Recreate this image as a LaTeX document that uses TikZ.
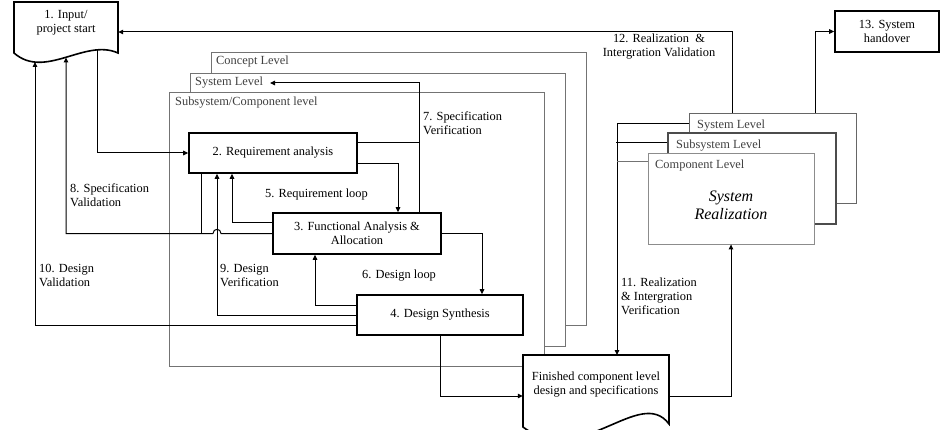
\documentclass[tikz,border=0pt]{standalone}
\usepackage{fontspec}
\setmainfont{Liberation Serif}
\usetikzlibrary{arrows.meta}
\begin{document}
\begin{tikzpicture}[x=1pt,y=-1pt,
  every node/.style={font=\fontsize{12.4}{14}\selectfont},
  lbl/.style={inner sep=0pt,anchor=west,align=left},
  flbl/.style={inner sep=0pt,anchor=west,text=black!75},
  frame/.style={draw=black!55,line width=0.8pt,fill=white},
  stepbox/.style={draw,line width=1.6pt,minimum width=#1,minimum height=40pt,inner sep=2pt,align=center},
  conn/.style={line width=1pt},
  arr/.style={line width=1pt,-{Triangle[length=5pt,width=4.5pt]}},
  outline/.style={draw,line width=1.6pt,fill=white}]
\useasboundingbox (0,0) rectangle (949,430);

% level frames (left)
\draw[frame] (211,52) rectangle (586,325);
\draw[frame] (190,73) rectangle (565,346);
\draw[frame] (169,92) rectangle (544,366);
\node[flbl] (lconcept) at (216,62) {Concept Level};
\node[flbl] (lsystem) at (195,83) {System Level};
\node[flbl] (lsubsys) at (175,103) {Subsystem/Component level};

% realization stack (right)
\node[frame,draw=black!60,minimum width=167pt,minimum height=90pt,inner sep=0pt] (sys) at (772.5,158) {};
\node[frame,draw=black!70,line width=1.2pt,minimum width=168pt,minimum height=91pt,inner sep=0pt] (sub) at (752,178.5) {};
\node[frame,draw=black!45,minimum width=166pt,minimum height=91pt,inner sep=0pt] (comp) at (731,198.5) {};
\node[flbl] (lsys2) at (697,126) {System Level};
\node[flbl] (lsub2) at (676,146) {Subsystem Level};
\node[flbl] (lcomp2) at (655,166) {Component Level};
\node[align=center,font=\fontsize{16}{18}\selectfont\itshape] (sr) at (731,205) {System\\Realization};

% node 1 (document shape)
\draw[outline] (14,53) -- (14,2) -- (118,2) -- (118,53) .. controls (85,38) and (45,80) .. (14,53) -- cycle;
\node[align=center,minimum width=104pt,inner sep=0pt] (n1) at (66,23) {1. Input/\\project start};
\coordinate (n1out) at (97,50);
\coordinate (n1inA) at (35,62);
\coordinate (n1inB) at (66,57.5);

% finished doc
\draw[outline] (523,427) -- (523,355) -- (669,355) -- (669,424) .. controls (640,385) and (580,470) .. (523,427) -- cycle;
\node[align=center,minimum width=146pt,inner sep=0pt] (doc) at (596,385) {Finished component level\\design and specifications};
\coordinate (docin) at (617,355);

% process boxes
\node[stepbox=168pt] (n2) at (273,153) {2. Requirement analysis};
\node[stepbox=168pt,minimum height=41pt] (n3) at (357,233.5) {3. Functional Analysis \&\\Allocation};
\node[stepbox=166pt] (n4) at (440,315) {4. Design Synthesis};
\node[stepbox=104pt,minimum height=41pt] (n13) at (887,31.5) {13. System\\handover};

% connectors
\draw[arr] (n1out) |- (n2.west);
\draw[arr] ([yshift=-11pt]n2.east) -| ([xshift=41pt]n3.north);
\coordinate (sevtop) at (419,83);
\coordinate (sevend) at (270,83);
\draw[conn] ([yshift=10pt]n2.east) -| (sevtop);
\draw[arr] ([xshift=62pt]n3.north) |- (sevend);
\draw[arr] ([yshift=10.5pt]n3.west) -| ([xshift=-41pt]n2.south);
\draw[conn] ([xshift=-72pt]n2.south) -- ([xshift=-72pt]n2.south |- n3.west);
\draw[arr] (n3.west) -- (221,233.5) .. controls (221,228) and (213,228) .. (213,233.5) -| (n1inB);
\draw[arr] (n4.west) -| ([xshift=-56pt]n2.south);
\draw[arr] ([yshift=10pt]n4.west) -| ([xshift=-42pt]n3.south);
\draw[arr] ([yshift=-10pt]n4.west) -| (n1inA);
\draw[arr] (n3.east) -| ([xshift=42pt]n4.north);
\draw[arr] (n4.south) |- ([yshift=-11pt]doc.west);
\draw[arr] ([yshift=-11pt]doc.east) -| (comp.south);
\draw[arr] ([yshift=34pt]sys.west) -| (docin);
\draw[conn] ([yshift=35.5pt]sub.west) -- +(-51pt,0);
\draw[conn,black!55] ([yshift=36.5pt]comp.west) -- +(-31pt,0);
\draw[arr] ([xshift=-40.5pt]sys.north) |- ([yshift=-9pt]n1.east);
\draw[arr] ([xshift=42.5pt]sys.north) |- (n13.west);

% labels
\node[lbl] (l7) at (423,123.5) {7. Specification\\Verification};
\node[lbl] (l5) at (265,195) {5. Requirement loop};
\node[lbl] (l8) at (70,195) {8. Specification\\Validation};
\node[lbl] (l10) at (39,275.5) {10. Design\\Validation};
\node[lbl] (l9) at (220,275.5) {9. Design\\Verification};
\node[lbl] (l6) at (362,276) {6. Design loop};
\node[lbl] (l11) at (621,296) {11. Realization\\\& Intergration\\Verification};
\node[align=center,inner sep=0pt] (l12) at (659,47) {12. Realization~~\&\\Intergration Validation};
\end{tikzpicture}
\end{document}
